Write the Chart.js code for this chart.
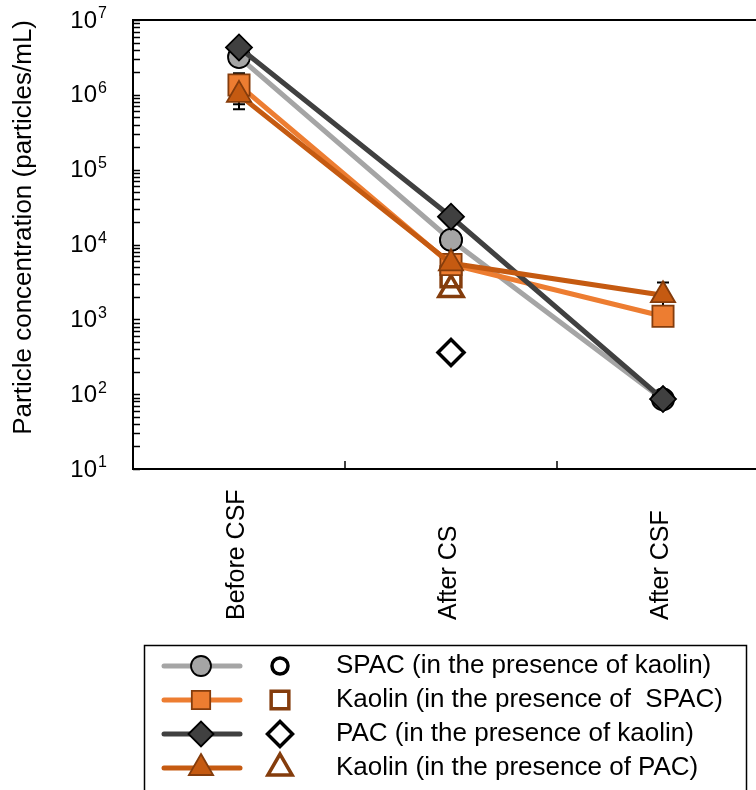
<!DOCTYPE html>
<html>
<head>
<meta charset="utf-8">
<script src="https://cdn.jsdelivr.net/npm/chart.js@4.4.1/dist/chart.umd.min.js"></script>
<style>
  html, body { margin: 0; padding: 0; background: #fff; overflow: hidden; }
  #wrap { width: 790px; height: 790px; }
</style>
</head>
<body>
<div id="wrap"><canvas id="particleChart" width="790" height="790"></canvas></div>
<script>
// Data
const categories = ['Before CSF', 'After CS', 'After CSF'];

const spacKaolin = [3.2e6, 1.15e4, 85];
const kaolinSpac = [1.35e6, 5.4e3, 1.1e3];
const pacKaolin = [4.3e6, 2.35e4, 86];
const kaolinPac = [1.0e6, 5.6e3, 2.1e3];

// open symbols, only after CS
const spacKaolinOpen = [null, 1.15e4, null];
const kaolinSpacOpen = [null, 3.7e3, null];
const pacKaolinOpen = [null, 3.6e2, null];
const kaolinPacOpen = [null, 2.5e3, null];

// error bars (+/-)
const kaolinSpacErr = [6.0e5, null, null];
const kaolinPacErr = [3.6e5, null, 1.0e3];

const yTicks = [1e1, 1e2, 1e3, 1e4, 1e5, 1e6, 1e7];

const legendLabels = [
    'SPAC (in the presence of kaolin)',
    'Kaolin (in the presence of  SPAC)',
    'PAC (in the presence of kaolin)',
    'Kaolin (in the presence of PAC)'
];

const FONT = '"Liberation Sans", Arial, sans-serif';

// series styles (filled / open), legRo = open symbol size in legend
const styles = [
    { line: '#A5A5A5', fill: '#A5A5A5', border: '#000000', open: '#000000', shape: 'circle', r: 11, openR: 10, legR: 10, legRo: 8 },
    { line: '#ED7D31', fill: '#ED7D31', border: '#843C0C', open: '#843C0C', shape: 'rect', r: 15, openR: 14, legR: 13, legRo: 12.5 },
    { line: '#404040', fill: '#404040', border: '#000000', open: '#000000', shape: 'rectRot', r: 13, openR: 13, legR: 12.5, legRo: 12.5 },
    { line: '#C55A11', fill: '#C55A11', border: '#843C0C', open: '#843C0C', shape: 'triangle', r: 14, openR: 14, legR: 14, legRo: 14 }
];

// Build the log ticks: 1..9 in every decade
function buildLogTicks() {
    const ticks = [];
    yTicks.forEach((d, i) => {
        if (i === yTicks.length - 1) { ticks.push(d); return; }
        for (let k = 1; k <= 9; k++) ticks.push(d * k);
    });
    return ticks;
}

// Filled series with lines
function lineDataset(label, data, s, order) {
    return {
        label: label,
        data: data,
        order: order,
        borderColor: s.line,
        borderWidth: 5,
        tension: 0,
        pointStyle: s.shape,
        pointRadius: s.r,
        pointHoverRadius: s.r,
        pointBackgroundColor: s.fill,
        pointBorderColor: s.border,
        pointBorderWidth: 1.8
    };
}

// Open symbols, no line
function openDataset(label, data, s, order) {
    return {
        label: label,
        data: data,
        order: order,
        showLine: false,
        pointStyle: s.shape,
        pointRadius: s.openR,
        pointHoverRadius: s.openR,
        pointBackgroundColor: 'rgba(255,255,255,0)',
        pointBorderColor: s.open,
        pointBorderWidth: 3.5
    };
}

function drawErrorBars(chart) {
    const ctx = chart.ctx;
    const xs = chart.scales.x, ys = chart.scales.y;
    const pairs = [[kaolinSpac, kaolinSpacErr], [kaolinPac, kaolinPacErr]];
    ctx.save();
    ctx.strokeStyle = '#000';
    ctx.lineWidth = 2;
    pairs.forEach(([vals, errs]) => {
        vals.forEach((v, i) => {
            if (errs[i] == null) return;
            const x = xs.getPixelForValue(i);
            const yHi = ys.getPixelForValue(v + errs[i]);
            const yLo = ys.getPixelForValue(v - errs[i]);
            ctx.beginPath();
            ctx.moveTo(x, yHi); ctx.lineTo(x, yLo);
            ctx.moveTo(x - 6, yHi); ctx.lineTo(x + 6, yHi);
            ctx.moveTo(x - 6, yLo); ctx.lineTo(x + 6, yLo);
            ctx.stroke();
        });
    });
    ctx.restore();
}

function drawAxisExtras(chart) {
    const ctx = chart.ctx;
    const area = chart.chartArea;
    const xs = chart.scales.x, ys = chart.scales.y;
    ctx.save();
    ctx.strokeStyle = '#000';
    ctx.lineWidth = 2;
    // top frame line
    ctx.beginPath();
    ctx.moveTo(area.left, area.top);
    ctx.lineTo(area.right, area.top);
    ctx.stroke();
    // inner ticks on y axis
    ctx.lineWidth = 1.5;
    ys.ticks.forEach(t => {
        const y = Math.round(ys.getPixelForValue(t.value)) + 0.5;
        ctx.beginPath();
        ctx.moveTo(area.left, y);
        ctx.lineTo(area.left + 7, y);
        ctx.stroke();
    });
    // inner ticks between categories
    for (let i = 0; i < categories.length; i++) {
        const x = Math.round((xs.getPixelForValue(i) + xs.getPixelForValue(i + 1)) / 2);
        ctx.beginPath();
        ctx.moveTo(x, area.bottom);
        ctx.lineTo(x, area.bottom - 8);
        ctx.stroke();
    }
    // y labels as 10 with exponent
    ctx.fillStyle = '#000';
    ctx.textBaseline = 'middle';
    yTicks.forEach(v => {
        const y = ys.getPixelForValue(v);
        ctx.font = '24px ' + FONT;
        ctx.textAlign = 'right';
        ctx.fillText('10', 97, y + 1);
        ctx.font = '16px ' + FONT;
        ctx.textAlign = 'left';
        ctx.fillText(String(Math.round(Math.log10(v))), 98, y - 6);
    });
    // rotated category labels, starting from the bottom
    ctx.font = '25px ' + FONT;
    categories.forEach((c, i) => {
        const x = xs.getPixelForValue(i);
        ctx.save();
        ctx.translate(x - 2, 620);
        ctx.rotate(-Math.PI / 2);
        ctx.textAlign = 'left';
        ctx.fillText(c, 0, 0);
        ctx.restore();
    });
    ctx.restore();
}

function drawLegend(chart) {
    const ctx = chart.ctx;
    const rows = [666, 700, 734, 768];
    ctx.save();
    ctx.strokeStyle = '#000';
    ctx.lineWidth = 1.5;
    ctx.strokeRect(144.5, 645.5, 602, 160);
    styles.forEach((s, i) => {
        const y = rows[i];
        ctx.strokeStyle = s.line;
        ctx.lineWidth = 5;
        ctx.lineCap = 'round';
        ctx.beginPath();
        ctx.moveTo(164, y); ctx.lineTo(240, y);
        ctx.stroke();
        ctx.lineCap = 'butt';
        ctx.fillStyle = s.fill;
        ctx.strokeStyle = s.border;
        ctx.lineWidth = 1.8;
        Chart.helpers.drawPoint(ctx, { pointStyle: s.shape, radius: s.legR, rotation: 0, borderWidth: 1.8 }, 201, y);
        ctx.fillStyle = 'rgba(255,255,255,0)';
        ctx.strokeStyle = s.open;
        ctx.lineWidth = 3.5;
        Chart.helpers.drawPoint(ctx, { pointStyle: s.shape, radius: s.legRo, rotation: 0, borderWidth: 3.5 }, 280, y);
        ctx.fillStyle = '#000';
        ctx.font = '26px ' + FONT;
        ctx.textAlign = 'left';
        ctx.textBaseline = 'middle';
        ctx.fillText(legendLabels[i], 336, y);
    });
    ctx.restore();
}

const extrasPlugin = {
    id: 'extras',
    beforeDatasetsDraw(chart) { drawErrorBars(chart); },
    afterDraw(chart) {
        drawAxisExtras(chart);
        drawLegend(chart);
    }
};

function createChart() {
    const ctx = document.getElementById('particleChart').getContext('2d');
    new Chart(ctx, {
        type: 'line',
        data: {
            labels: categories,
            datasets: [
                lineDataset(legendLabels[3], kaolinPac, styles[3], 1),
                lineDataset(legendLabels[2], pacKaolin, styles[2], 2),
                lineDataset(legendLabels[1], kaolinSpac, styles[1], 3),
                lineDataset(legendLabels[0], spacKaolin, styles[0], 4),
                openDataset(legendLabels[3], kaolinPacOpen, styles[3], 5),
                openDataset(legendLabels[2], pacKaolinOpen, styles[2], 6),
                openDataset(legendLabels[1], kaolinSpacOpen, styles[1], 7),
                openDataset(legendLabels[0], spacKaolinOpen, styles[0], 8)
            ]
        },
        options: {
            responsive: false,
            animation: false,
            devicePixelRatio: 1,
            layout: { padding: { top: 20, right: 21, left: 0, bottom: 0 } },
            plugins: {
                legend: { display: false },
                tooltip: { enabled: false }
            },
            scales: {
                x: {
                    type: 'category',
                    offset: true,
                    ticks: { display: false },
                    grid: { display: false },
                    border: { display: true, color: '#000', width: 2 },
                    afterFit: scale => { scale.height = 790 - 469; }
                },
                y: {
                    type: 'logarithmic',
                    min: 10,
                    max: 1e7,
                    ticks: { display: false },
                    grid: { display: false, drawTicks: false },
                    border: { display: true, color: '#000', width: 2 },
                    afterBuildTicks: scale => {
                        scale.ticks = buildLogTicks().map(v => ({ value: v }));
                    },
                    afterFit: scale => { scale.width = 133; },
                    title: {
                        display: true,
                        text: 'Particle concentration (particles/mL)',
                        align: 'end',
                        color: '#000',
                        font: { family: FONT, size: 26 },
                        padding: { top: 8, bottom: 0 }
                    }
                }
            }
        },
        plugins: [extrasPlugin]
    });
}

window.onload = createChart;
</script>
</body>
</html>
